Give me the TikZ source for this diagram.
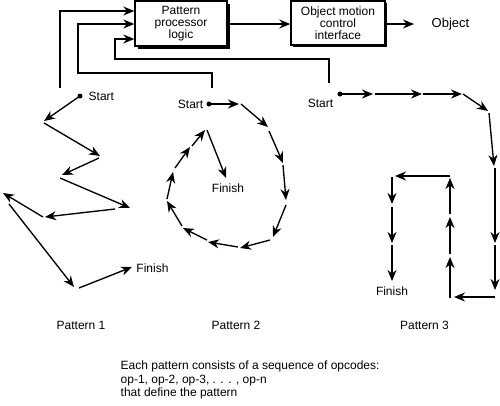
\documentclass[tikz,border=0pt]{standalone}
\usepackage{fontspec}
\setmainfont{Liberation Sans}
\usetikzlibrary{arrows.meta,calc}
\begin{document}
\begin{tikzpicture}[x=1pt,y=-1pt,
  line width=1.35pt,
  arr/.style={-{Stealth[length=11pt,width=9pt,inset=3.5pt]}},
  txt/.style={inner sep=0pt,font=\fontsize{12}{12}\selectfont},
  boxx/.style={draw,fill=white,line width=1.35pt,minimum height=45pt,inner sep=0pt,align=center,font=\fontsize{12}{12}\selectfont},
  dotn/.style={circle,fill,inner sep=0pt,minimum size=5pt}]
\useasboundingbox (0,0) rectangle (500,405);
% boxes with shadows
\fill (138,4) rectangle (230,49);
\node[boxx,minimum width=92pt] (b1) at (181,23.5) {Pattern\\processor\\logic};
\fill (293,3) rectangle (387,47);
\node[boxx,minimum width=94pt,minimum height=44pt] (b2) at (338,23) {Object motion\\control\\interface};
\node[txt,anchor=west,font=\fontsize{13}{13}\selectfont] (obj) at (431,24) {Object};
\coordinate (objin) at (414,24);
\draw[arr] (b1.east |- 0,24) -- (b2.west |- 0,24);
\draw[arr] (b2.east |- 0,24) -- (objin);
% feedback lines
\coordinate (f1) at (60,88);
\coordinate (f2) at (212,88);
\coordinate (f3) at (329,83);
\draw[arr] (f1) |- (b1.west |- 0,11);
\draw[arr] (f2) |- (78,73) |- (b1.west |- 0,24);
\draw[arr] (f3) |- (115,59) |- (b1.west |- 0,39);
% Pattern 1
\node[dotn] (s1) at (80,96) {};
\node[txt,anchor=west] (st1) at (88,96) {Start};
\foreach \ax/\ay/\bx/\by in {80/96/44/121, 44/123/100/156, 99/158/62/175, 60/178/130/208,
  115/209/45/217, 43/217/3/193, 9/204/74/287, 79/288/132/267}
  \draw[arr] (\ax,\ay) -- (\bx,\by);
\node[txt] (fi1) at (152.5,268) {Finish};
\node[txt] (p1) at (81,325) {Pattern 1};
% Pattern 2
\node[dotn] (s2) at (209,104) {};
\node[txt,anchor=east] (st2) at (204,104) {Start};
\foreach \ax/\ay/\bx/\by in {209/104/239/104, 241/104/268/127, 269/131/283/163, 283/165/286/200,
  286/205/273/237, 270/240/240/248, 238/247/208/242, 207/240/183/228, 182/226/167/201,
  167/199/173/172, 175/168/190/147, 192/146/205/130, 207/130/226/178}
  \draw[arr] (\ax,\ay) -- (\bx,\by);
\node[txt] (fi2) at (228,188) {Finish};
\node[txt] (p2) at (236,325) {Pattern 2};
% Pattern 3
\node[dotn] (s3) at (340,94) {};
\node[txt] (st3) at (320.5,103) {Start};
\foreach \ax/\ay/\bx/\by in {340/94/373/94, 375/94/422/94, 423/94/462/94, 463/94/488/111,
  489/113/494/166, 495/168/495/243, 495/245/495/290, 495/297/454/297, 450/298/450/257,
  450/254/450/217, 450/214/450/178, 450/176/395/176, 392/177/392/204, 392/207/392/243,
  392/245/392/281}
  \draw[arr] (\ax,\ay) -- (\bx,\by);
\node[txt] (fi3) at (392,291) {Finish};
\node[txt] (p3) at (424.5,325) {Pattern 3};
% caption
\node[txt,anchor=west,align=left,font=\fontsize{12}{13.5}\selectfont] (cap) at (120,380)
  {Each pattern consists of a sequence of opcodes:\\op-1, op-2, op-3, . . . , op-n\\that define the pattern};
\end{tikzpicture}
\end{document}
